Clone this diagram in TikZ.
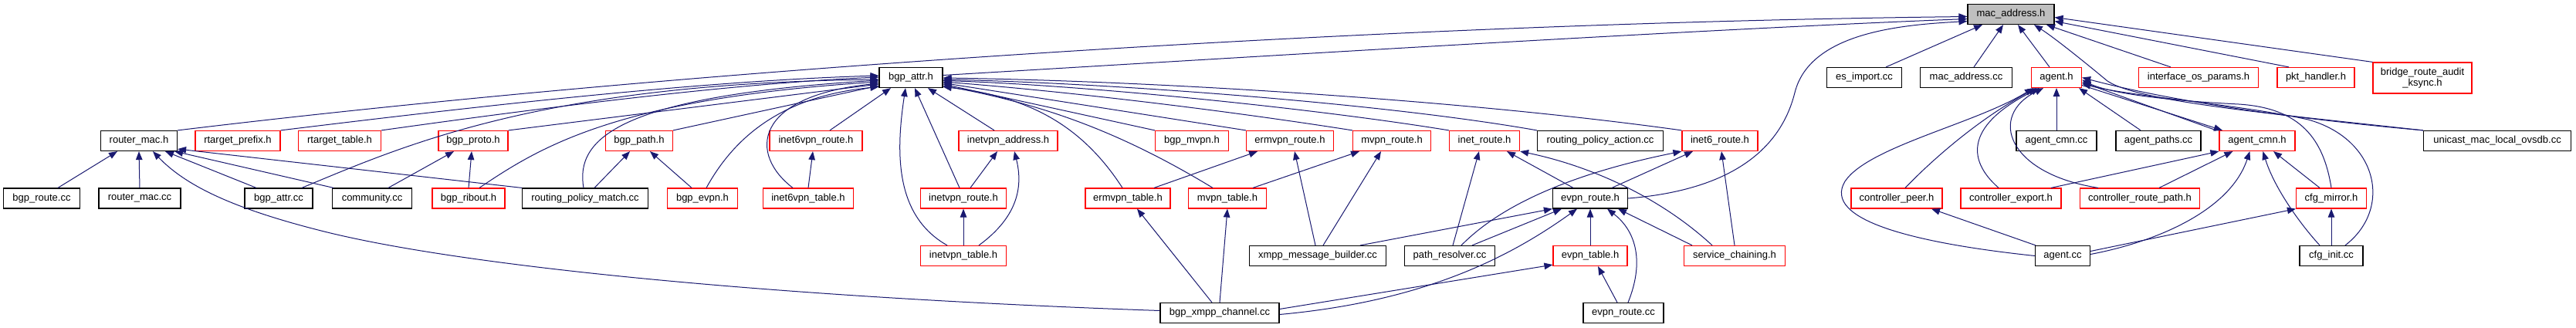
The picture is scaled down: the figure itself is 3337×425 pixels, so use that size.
\documentclass[tikz,border=0pt]{standalone}
\usepackage{fontspec}
\setmainfont{Liberation Sans}
\usetikzlibrary{arrows.meta}
\definecolor{eb}{RGB}{25,25,112}
\definecolor{rb}{RGB}{255,0,0}
\definecolor{gf}{RGB}{191,191,191}
\begin{document}
\begin{tikzpicture}[x=1pt,y=-1pt,
 box/.style={draw=black, line width=1.2pt, fill=white, inner sep=0pt, minimum height=26pt, font=\fontsize{13}{14.5}\selectfont, text=black},
 rbox/.style={box, draw=rb},
 e/.style={draw=eb, line width=1pt, -{Triangle[length=11pt,width=8.5pt]}}]
\useasboundingbox[fill=white] (0,0) rectangle (3337,425);
% row 1
\node[box, fill=gf, minimum width=112pt] (mac) at (2605,18.5) {mac\_address.h};
% row 2
\node[box, minimum width=82pt] (bgpattrh) at (1180,100.5) {bgp\_attr.h};
\node[box, minimum width=97pt] (esimport) at (2415,100.5) {es\_import.cc};
\node[box, minimum width=119pt] (macaddrcc) at (2547,100.5) {mac\_address.cc};
\node[rbox, minimum width=65pt] (agenth) at (2664,100.5) {agent.h};
\node[rbox, minimum width=155pt] (ifos) at (2848,100.5) {interface\_os\_params.h};
\node[rbox, minimum width=100pt] (pkth) at (3000,100.5) {pkt\_handler.h};
\node[rbox, minimum width=128pt, minimum height=40pt, align=center] (bridge) at (3138,101) {bridge\_route\_audit\\\_ksync.h};
% row 3
\node[box, minimum width=99pt] (routermach) at (180,182.5) {router\_mac.h};
\node[rbox, minimum width=110pt] (rtprefix) at (308,182.5) {rtarget\_prefix.h};
\node[rbox, minimum width=107pt] (rttable) at (440,182.5) {rtarget\_table.h};
\node[rbox, minimum width=90pt] (bgpproto) at (613,182.5) {bgp\_proto.h};
\node[rbox, minimum width=87pt] (bgppath) at (828,182.5) {bgp\_path.h};
\node[rbox, minimum width=120pt] (inet6vpnroute) at (1057,182.5) {inet6vpn\_route.h};
\node[rbox, minimum width=128pt] (inetvpnaddr) at (1306,182.5) {inetvpn\_address.h};
\node[rbox, minimum width=95pt] (bgpmvpn) at (1544,182.5) {bgp\_mvpn.h};
\node[rbox, minimum width=113pt] (ermvpnroute) at (1671,182.5) {ermvpn\_route.h};
\node[rbox, minimum width=101pt] (mvpnroute) at (1803,182.5) {mvpn\_route.h};
\node[rbox, minimum width=91pt] (inetroute) at (1923,182.5) {inet\_route.h};
\node[box, minimum width=163pt] (rpaction) at (2073,182.5) {routing\_policy\_action.cc};
\node[rbox, minimum width=98pt] (inet6route) at (2228,182.5) {inet6\_route.h};
\node[box, minimum width=104pt] (agentcmncc) at (2664,182.5) {agent\_cmn.cc};
\node[box, minimum width=110pt] (agentpaths) at (2796,182.5) {agent\_paths.cc};
\node[rbox, minimum width=98pt] (agentcmnh) at (2924,182.5) {agent\_cmn.h};
\node[box, minimum width=191pt] (unicast) at (3235,182.5) {unicast\_mac\_local\_ovsdb.cc};
% row 4
\node[box, minimum width=99pt] (bgproutecc) at (54,257) {bgp\_route.cc};
\node[box, minimum width=106pt] (routermaccc) at (181,257) {router\_mac.cc};
\node[box, minimum width=88pt] (bgpattrcc) at (361,257) {bgp\_attr.cc};
\node[box, minimum width=103pt] (community) at (482,257) {community.cc};
\node[rbox, minimum width=94pt] (ribout) at (607,257) {bgp\_ribout.h};
\node[box, minimum width=163pt] (rpmatch) at (758,257) {routing\_policy\_match.cc};
\node[rbox, minimum width=91pt] (bgpevpn) at (910,257) {bgp\_evpn.h};
\node[rbox, minimum width=117pt] (inet6vpntable) at (1047,257) {inet6vpn\_table.h};
\node[rbox, minimum width=111pt] (inetvpnroute) at (1248,257) {inetvpn\_route.h};
\node[rbox, minimum width=110pt] (ermvpntable) at (1461,257) {ermvpn\_table.h};
\node[rbox, minimum width=101pt] (mvpntable) at (1590,257) {mvpn\_table.h};
\node[box, minimum width=97pt] (evpnrouteh) at (2060,257) {evpn\_route.h};
\node[rbox, minimum width=118pt] (ctrlpeer) at (2457,257) {controller\_peer.h};
\node[rbox, minimum width=130pt] (ctrlexport) at (2605,257) {controller\_export.h};
\node[rbox, minimum width=155pt] (ctrlroutepath) at (2772,257) {controller\_route\_path.h};
\node[rbox, minimum width=91pt] (cfgmirror) at (3020,257) {cfg\_mirror.h};
% row 5
\node[rbox, minimum width=111pt] (inetvpntable) at (1248,331.5) {inetvpn\_table.h};
\node[box, minimum width=177pt] (xmppmsg) at (1707,331.5) {xmpp\_message\_builder.cc};
\node[box, minimum width=117pt] (pathres) at (1878,331.5) {path\_resolver.cc};
\node[rbox, minimum width=96pt] (evpntable) at (2060,331.5) {evpn\_table.h};
\node[rbox, minimum width=131pt] (svcchain) at (2247,331.5) {service\_chaining.h};
\node[box, minimum width=71pt] (agentcc) at (2672,331.5) {agent.cc};
\node[box, minimum width=82pt] (cfginit) at (3020,331.5) {cfg\_init.cc};
% row 6
\node[box, minimum width=154pt] (xmppch) at (1580,405.5) {bgp\_xmpp\_channel.cc};
\node[box, minimum width=104pt] (evpnroutecc) at (2103,405.5) {evpn\_route.cc};

% ---- edges to mac_address.h
\draw[e] (routermach.north east) .. controls (900,88) and (1800,30) .. ([yshift=-3pt]mac.west);
\draw[e] ([yshift=3pt]bgpattrh.east) .. controls (1600,75) and (2200,38) .. ([yshift=-6pt]mac.west);
\draw[e] (evpnrouteh.east) .. controls (2260,245) and (2310,180) .. (2325,120) .. controls (2345,40) and (2470,32) .. ([yshift=-9pt]mac.west);
\draw[e] ([xshift=28pt]esimport.north) -- ([xshift=-37pt]mac.south);
\draw[e] ([xshift=10pt]macaddrcc.north) -- ([xshift=-10pt]mac.south);
\draw[e] ([xshift=-9pt]agenth.north) -- ([xshift=9pt]mac.south);
\draw[e] ([xshift=-36pt]ifos.north) -- ([xshift=46pt]mac.south);
\draw[e] ([xshift=-35pt]pkth.north) -- ([yshift=-9pt]mac.east);
\draw[e] (bridge.north west) -- ([yshift=-4pt]mac.east);
\draw[e] (unicast.north west) .. controls (2950,148) and (2770,132) .. (2730,105) .. controls (2700,80) and (2660,48) .. ([xshift=30pt]mac.south);

% ---- edges to agent.h
\draw[e] (agentcmncc.north) -- (agenth.south);
\draw[e] ([xshift=-23pt]agentpaths.north) -- ([xshift=-4pt]agenth.south east);
\draw[e] ([xshift=-53pt]agentcmnh.north) -- ([yshift=-6pt]agenth.east);
\draw[e] ([yshift=-10pt]agenth.east) -- ([xshift=-45pt]agentcmnh.north);
\draw[e] ([xshift=11pt]ctrlpeer.north) .. controls (2510,200) and (2570,150) .. ([xshift=-26pt]agenth.south);
\draw[e] ([xshift=-16pt]ctrlexport.north) .. controls (2545,205) and (2550,160) .. ([xshift=-22pt]agenth.south);
\draw[e] ([xshift=-54pt]ctrlroutepath.north) .. controls (2600,225) and (2575,150) .. ([xshift=-17pt]agenth.south);
\draw[e] (agentcc.west) .. controls (2480,315) and (2360,285) .. (2390,235) .. controls (2420,190) and (2560,160) .. ([xshift=-30pt]agenth.south);
\draw[e] (cfgmirror.north) .. controls (3010,180) and (2980,140) .. (2900,135) .. controls (2800,130) and (2730,120) .. ([yshift=-3pt]agenth.east);
\draw[e] ([xshift=18pt]cfginit.north) .. controls (3100,270) and (3080,180) .. (2990,155) .. controls (2900,135) and (2760,125) .. ([yshift=-8pt]agenth.east);
\draw[e] (unicast.north west) .. controls (2950,152) and (2800,128) .. ([yshift=0pt]agenth.east);

% ---- edges to agent_cmn.h
\draw[e] ([xshift=52pt]ctrlexport.north) -- (agentcmnh.south west);
\draw[e] ([xshift=25pt]ctrlroutepath.north) -- ([xshift=18pt]agentcmnh.south west);
\draw[e] ([yshift=2pt]agentcc.east) .. controls (2800,312) and (2890,270) .. ([xshift=40pt]agentcmnh.south west);
\draw[e] ([xshift=-15pt]cfginit.north) .. controls (2975,285) and (2945,240) .. ([xshift=57pt]agentcmnh.south west);
\draw[e] ([xshift=-15pt]cfgmirror.north) -- ([xshift=21pt]agentcmnh.south);
\draw[e] (cfginit.north) -- (cfgmirror.south);
\draw[e] ([yshift=6pt]agentcc.east) -- (cfgmirror.south west);
\draw[e] ([xshift=-35pt]agentcc.north) -- ([xshift=45pt]ctrlpeer.south);

% ---- edges to router_mac.h
\draw[e] ([xshift=21pt]bgproutecc.north) -- ([xshift=-28pt]routermach.south);
\draw[e] (routermaccc.north) -- (routermach.south);
\draw[e] ([xshift=-29pt]bgpattrcc.north) -- ([xshift=34pt]routermach.south);
\draw[e] ([xshift=-50pt]community.north) -- ([xshift=-4pt]routermach.south east);
\draw[e] (rpmatch.north west) -- ([yshift=3pt]routermach.south east);
\draw[e] ([yshift=3pt]xmppch.west) .. controls (1000,385) and (600,345) .. (420,300) .. controls (300,270) and (240,240) .. ([xshift=18pt]routermach.south);

% ---- edges to bgp_attr.h (left)
\draw[e] (rtprefix.north east) .. controls (600,140) and (900,105) .. ([yshift=2.5pt]bgpattrh.west);
\draw[e] (rttable.north east) .. controls (700,140) and (950,108) .. ([yshift=0.5pt]bgpattrh.west);
\draw[e] ([xshift=30pt]bgpattrcc.north) .. controls (520,190) and (700,108) .. ([yshift=-2.5pt]bgpattrh.west);
\draw[e] (bgpproto.north east) -- ([yshift=-8.5pt]bgpattrh.west);
\draw[e] ([xshift=14pt]ribout.north) .. controls (700,190) and (800,128) .. ([yshift=-5.5pt]bgpattrh.west);
\draw[e] ([xshift=-2pt]rpmatch.north) .. controls (745,180) and (800,125) .. ([yshift=-3.5pt]bgpattrh.west);
\draw[e] (bgppath.north east) -- ([yshift=-10.5pt]bgpattrh.west);
\draw[e] ([xshift=5pt]bgpevpn.north) .. controls (950,180) and (1010,125) .. ([yshift=-12pt]bgpattrh.west);
\draw[e] ([xshift=-20pt]inet6vpntable.north) .. controls (970,200) and (975,125) .. ([yshift=-7.5pt]bgpattrh.west);
\draw[e] ([xshift=18pt]inet6vpnroute.north) -- ([xshift=-26pt]bgpattrh.south);
\draw[e] ([xshift=-21pt]inetvpntable.north) .. controls (1160,280) and (1160,200) .. ([xshift=-7pt]bgpattrh.south);
\draw[e] ([xshift=-5pt]inetvpnroute.north) -- ([xshift=5pt]bgpattrh.south);
\draw[e] ([xshift=-18pt]inetvpnaddr.north) -- ([xshift=22pt]bgpattrh.south);
% ---- edges to bgp_attr.h (right)
\draw[e] ([xshift=-7pt]ermvpntable.north) .. controls (1400,160) and (1330,125) .. ([yshift=-12pt]bgpattrh.east);
\draw[e] ([xshift=-19pt]mvpntable.north) .. controls (1450,170) and (1350,135) .. ([yshift=-10.5pt]bgpattrh.east);
\draw[e] (bgpmvpn.north west) -- ([yshift=-8.5pt]bgpattrh.east);
\draw[e] (ermvpnroute.north west) -- ([yshift=-7pt]bgpattrh.east);
\draw[e] (mvpnroute.north west) .. controls (1600,145) and (1400,120) .. ([yshift=-5.5pt]bgpattrh.east);
\draw[e] (inetroute.north west) .. controls (1700,140) and (1400,110) .. ([yshift=-4pt]bgpattrh.east);
\draw[e] (rpaction.north west) .. controls (1800,135) and (1450,108) .. ([yshift=-2.5pt]bgpattrh.east);
\draw[e] (inet6route.north west) .. controls (1900,130) and (1500,105) .. ([yshift=-0.5pt]bgpattrh.east);

% ---- middle edges
\draw[e] (ribout.north) -- ([xshift=-2pt]bgpproto.south);
\draw[e] ([xshift=21pt]community.north) -- ([xshift=-25pt]bgpproto.south);
\draw[e] ([xshift=12pt]rpmatch.north) -- ([xshift=-12pt]bgppath.south);
\draw[e] ([xshift=-14pt]bgpevpn.north) -- ([xshift=14pt]bgppath.south);
\draw[e] (inet6vpntable.north) -- ([xshift=-4pt]inet6vpnroute.south);
\draw[e] ([xshift=9pt]inetvpnroute.north) -- ([xshift=-14pt]inetvpnaddr.south);
\draw[e] ([xshift=20pt]inetvpntable.north) .. controls (1320,280) and (1325,240) .. ([xshift=8pt]inetvpnaddr.south);
\draw[e] (inetvpntable.north) -- (inetvpnroute.south);
\draw[e] ([xshift=34pt]ermvpntable.north) -- ([xshift=-42pt]ermvpnroute.south);
\draw[e] ([xshift=33pt]mvpntable.north) -- ([xshift=-42pt]mvpnroute.south);
\draw[e] ([xshift=-10pt]xmppch.north) -- ([xshift=12pt]ermvpntable.south);
\draw[e] (xmppch.north) -- (mvpntable.south);
\draw[e] ([yshift=-2pt]xmppch.east) .. controls (1850,390) and (1960,330) .. ([xshift=-17pt]evpnrouteh.south);
\draw[e] ([yshift=5pt]xmppch.east) -- ([yshift=2pt]evpntable.south west);
\draw[e] ([xshift=-3pt]xmppmsg.north) -- ([xshift=6pt]ermvpnroute.south);
\draw[e] ([xshift=7pt]xmppmsg.north) -- ([xshift=-14pt]mvpnroute.south);
\draw[e] ([xshift=55pt]xmppmsg.north) -- (evpnrouteh.south west);
\draw[e] ([xshift=4pt]pathres.north) -- ([xshift=-7pt]inetroute.south);
\draw[e] ([xshift=15pt]pathres.north) .. controls (1950,260) and (2050,222) .. (inet6route.south west);
\draw[e] ([xshift=29pt]pathres.north) -- ([xshift=-37pt]evpnrouteh.south);
\draw[e] ([xshift=-22pt]evpnrouteh.north) -- ([xshift=29pt]inetroute.south);
\draw[e] ([xshift=28pt]evpnrouteh.north) -- ([xshift=-35pt]inet6route.south);
\draw[e] ([xshift=-29pt]svcchain.north) .. controls (2150,255) and (2060,215) .. (inetroute.south east);
\draw[e] (svcchain.north) -- ([xshift=2pt]inet6route.south);
\draw[e] ([xshift=-55pt]svcchain.north) -- ([xshift=36pt]evpnrouteh.south);
\draw[e] (evpntable.north) -- (evpnrouteh.south);
\draw[e] ([xshift=6pt]evpnroutecc.north) .. controls (2130,340) and (2120,300) .. ([xshift=22pt]evpnrouteh.south);
\draw[e] ([xshift=-8pt]evpnroutecc.north) -- ([xshift=10pt]evpntable.south);
\end{tikzpicture}
\end{document}
